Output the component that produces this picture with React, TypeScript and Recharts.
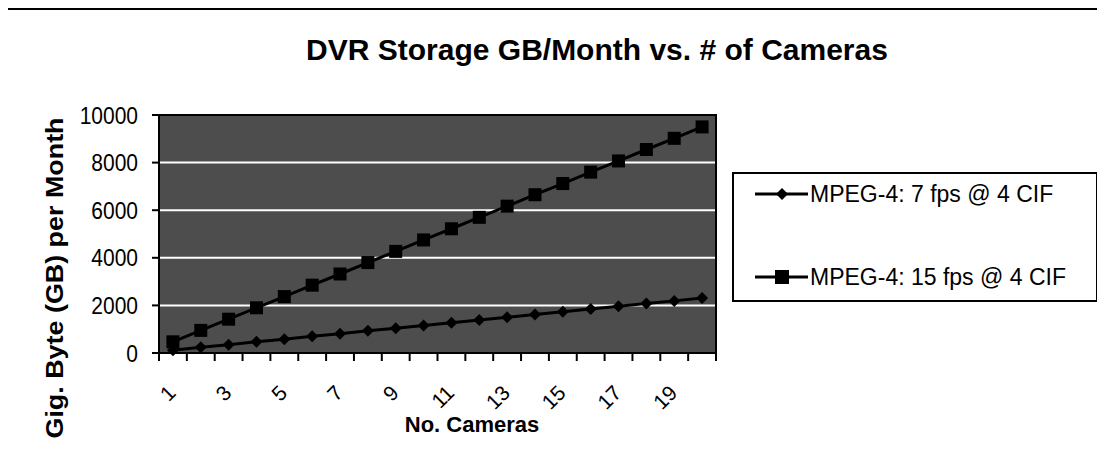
import React from 'react';
import { LineChart, Line, XAxis, YAxis, CartesianGrid, ReferenceArea, Legend } from 'recharts';

const cameras = [1, 2, 3, 4, 5, 6, 7, 8, 9, 10, 11, 12, 13, 14, 15, 16, 17, 18, 19, 20];
const fps7 = [120, 240, 350, 470, 580, 700, 810, 930, 1040, 1160, 1270, 1390, 1500, 1620, 1730, 1850, 1960, 2080, 2190, 2310];
const fps15 = [470, 950, 1420, 1900, 2370, 2850, 3320, 3800, 4270, 4750, 5220, 5700, 6170, 6650, 7120, 7600, 8070, 8550, 9020, 9500];
const yTicks = [0, 2000, 4000, 6000, 8000, 10000];
const xLabels = [1, 3, 5, 7, 9, 11, 13, 15, 17, 19];
const seriesNames = ['MPEG-4: 7 fps @ 4 CIF', 'MPEG-4: 15 fps @ 4 CIF'];

const data = cameras.map((n, i) => ({ n, fps7: fps7[i], fps15: fps15[i] }));
// tick marks sit between categories (Excel style), labels on odd categories
const xTicks = [...cameras.map(n => n - 0.5), cameras.length + 0.5, ...xLabels].sort((a, b) => a - b);

const font = "'Liberation Sans', Arial, sans-serif";

const XTick = (props: any) => {
 const { x, y, payload } = props;
 const v = payload.value;
 if (v % 1 !== 0) return <line x1={x} y1={y} x2={x} y2={y + 8} stroke="#000" strokeWidth={2} />;
 const ax = x - 1;
 const ay = y + 36;
 return (
  <text x={ax} y={ay} dy="0.35em" textAnchor="end" transform={`rotate(-45, ${ax}, ${ay})`} fontSize={21} fill="#000" fontFamily={font}>
   {v}
  </text>
 );
};

// scanned labels look a little taller than normal
const YTick = (props: any) => {
 const { x, y, payload } = props;
 return (
  <text x={x} y={y} dy="0.35em" textAnchor="end" fontSize={21} fill="#000" fontFamily={font} transform={`translate(0 ${y}) scale(1 1.18) translate(0 ${-y})`}>
   {payload.value}
  </text>
 );
};

const Diamond = ({ cx, cy }: any) =>
 cx == null ? null : <polygon points={`${cx},${cy - 6} ${cx + 6},${cy} ${cx},${cy + 6} ${cx - 6},${cy}`} fill="#000" />;

const Square = ({ cx, cy }: any) =>
 cx == null ? null : <rect x={cx - 6.5} y={cy - 6.5} width={13} height={13} fill="#000" />;

const LegendBox = () => (
 <div style={{ width: 366, height: 130, border: '2px solid #000', boxSizing: 'border-box', background: '#fff', fontFamily: font, fontSize: 23, color: '#000', paddingTop: 6 }}>
  {seriesNames.map((name, i) => (
   <div key={name} style={{ display: 'flex', alignItems: 'center', height: 28, marginTop: i === 0 ? 0 : 55 }}>
    <svg width={76} height={20} style={{ flex: 'none' }}>
     <line x1={21} y1={10} x2={74} y2={10} stroke="#000" strokeWidth={3} />
     {i === 0 ? (
      <polygon points="48,4 54,10 48,16 42,10" fill="#000" />
     ) : (
      <rect x={41} y={3} width={14} height={14} fill="#000" />
     )}
    </svg>
    <span style={{ whiteSpace: 'nowrap' }}>{name}</span>
   </div>
  ))}
 </div>
);

export default function App() {
 return (
  <div style={{ position: 'relative', width: 1097, height: 458, fontFamily: font }}>
   <div style={{ position: 'absolute', left: -2, top: 0, width: 1095, height: 458, borderTop: '2px solid #000', borderLeft: '2px solid #000', borderRight: '2px solid #000', boxSizing: 'border-box' }} />
   <div style={{ position: 'absolute', left: 0, width: 1178, top: 27, textAlign: 'center', fontSize: 30, lineHeight: '30px', fontWeight: 'bold' }}>
    DVR Storage GB/Month vs. # of Cameras
   </div>
   <div style={{ position: 'absolute', left: 47, top: 270, transform: 'translate(-50%, -50%) rotate(-90deg) scaleX(1.12)', fontSize: 24, fontWeight: 'bold', whiteSpace: 'nowrap' }}>
    Gig. Byte (GB) per Month
   </div>
   <div style={{ position: 'absolute', left: 464, top: 406, transform: 'translateX(-50%)', fontSize: 22, lineHeight: '22px', fontWeight: 'bold', whiteSpace: 'nowrap' }}>
    No. Cameras
   </div>
   <LineChart width={1097} height={458} data={data} margin={{ top: 107, right: 389, left: 0, bottom: 53 }}>
    <CartesianGrid vertical={false} horizontal fill="#4d4d4d" fillOpacity={1} stroke="#fff" strokeWidth={2} horizontalValues={yTicks} />
    <XAxis
     dataKey="n"
     type="number"
     domain={[0.5, 20.5]}
     ticks={xTicks}
     interval={0}
     tick={<XTick />}
     tickLine={false}
     tickSize={0}
     tickMargin={0}
     height={60}
     axisLine={{ stroke: '#000', strokeWidth: 2 }}
    />
    <YAxis
     domain={[0, 10000]}
     ticks={yTicks}
     interval={0}
     width={151}
     tickSize={7}
     tickMargin={14}
     tick={<YTick />}
     tickLine={{ stroke: '#000', strokeWidth: 2 }}
     axisLine={{ stroke: '#000', strokeWidth: 2 }}
    />
    <ReferenceArea x1={0.5} x2={20.5} y1={0} y2={10000} fill="none" stroke="#000" strokeWidth={2} ifOverflow="visible" />
    <Line dataKey="fps7" name={seriesNames[0]} stroke="#000" strokeWidth={3} dot={<Diamond />} activeDot={false} isAnimationActive={false} />
    <Line dataKey="fps15" name={seriesNames[1]} stroke="#000" strokeWidth={3} dot={<Square />} activeDot={false} isAnimationActive={false} />
    <Legend
     layout="vertical"
     align="center"
     verticalAlign="middle"
     content={() => <LegendBox />}
     wrapperStyle={{ left: 724, top: 164, width: 366, height: 130 }}
    />
   </LineChart>
  </div>
 );
}
